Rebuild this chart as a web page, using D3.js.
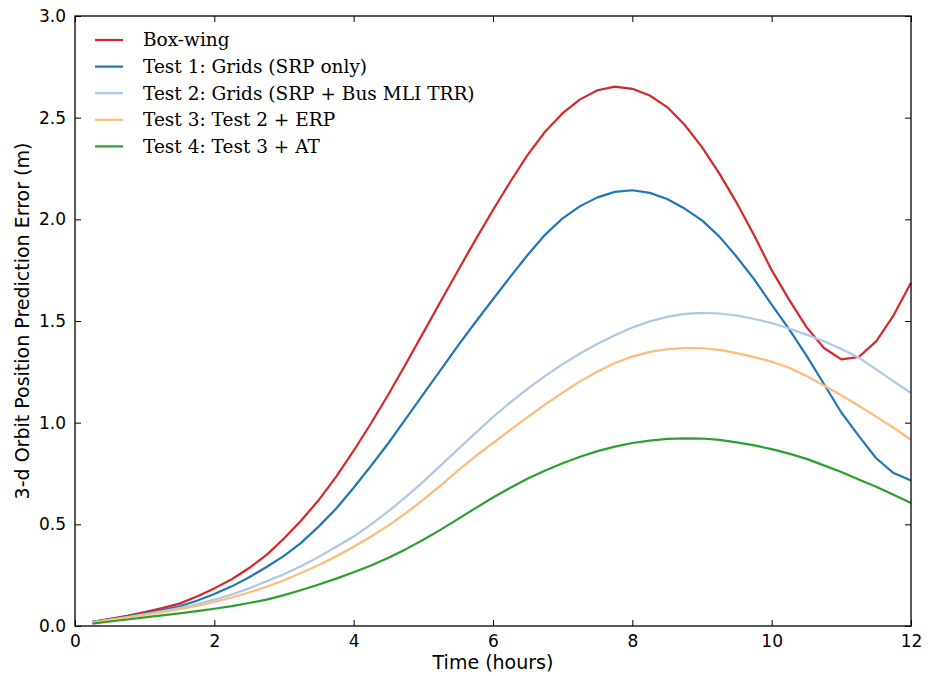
<!DOCTYPE html>
<html>
<head>
<meta charset="utf-8">
<script src="https://cdn.jsdelivr.net/npm/d3@7"></script>
<style>
body { margin: 0; background: #fff; }
text { fill: #000; }
</style>
</head>
<body>
<div id="chart"></div>
<script>
var W = 934, H = 676;
var margin = {left: 75, right: 23, top: 16, bottom: 50};

// time in hours, one sample every 15 minutes
var hours = d3.range(1, 49).map(function(i) { return i * 0.25; });

var boxWing = [0.02,0.035,0.05,0.068,0.088,0.11,0.145,0.185,0.23,0.285,0.35,0.43,
  0.52,0.62,0.735,0.862,0.997,1.14,1.29,1.443,1.597,1.75,1.90,2.046,
  2.186,2.318,2.432,2.522,2.59,2.635,2.653,2.642,2.609,2.552,2.465,2.355,
  2.225,2.08,1.92,1.75,1.605,1.47,1.367,1.311,1.323,1.40,1.528,1.688];

var test1 = [0.02,0.033,0.047,0.062,0.078,0.097,0.124,0.157,0.195,0.24,0.29,0.345,
  0.41,0.49,0.578,0.68,0.788,0.90,1.02,1.14,1.26,1.38,1.495,1.607,
  1.718,1.826,1.925,2.005,2.065,2.108,2.135,2.143,2.13,2.10,2.053,1.995,
  1.915,1.815,1.705,1.58,1.46,1.33,1.19,1.05,0.935,0.825,0.752,0.716];

var test2 = [0.018,0.03,0.043,0.057,0.072,0.088,0.107,0.13,0.155,0.185,0.22,0.255,
  0.295,0.34,0.39,0.44,0.50,0.565,0.635,0.71,0.79,0.87,0.95,1.028,
  1.10,1.167,1.23,1.288,1.34,1.388,1.43,1.468,1.498,1.52,1.535,1.54,
  1.537,1.527,1.51,1.49,1.463,1.433,1.40,1.362,1.32,1.262,1.203,1.146];

var test3 = [0.018,0.03,0.042,0.055,0.068,0.083,0.099,0.118,0.14,0.165,0.193,0.225,
  0.262,0.30,0.343,0.39,0.44,0.495,0.555,0.622,0.692,0.765,0.835,0.90,
  0.965,1.028,1.09,1.148,1.203,1.252,1.293,1.325,1.348,1.361,1.367,1.366,
  1.358,1.342,1.322,1.30,1.27,1.23,1.183,1.135,1.083,1.03,0.975,0.916];

var test4 = [0.012,0.022,0.032,0.042,0.052,0.062,0.073,0.085,0.098,0.113,0.13,0.152,
  0.177,0.204,0.233,0.264,0.298,0.336,0.378,0.424,0.474,0.527,0.58,0.632,
  0.68,0.725,0.765,0.80,0.832,0.86,0.882,0.90,0.912,0.92,0.923,0.922,
  0.915,0.903,0.888,0.87,0.848,0.822,0.79,0.757,0.72,0.685,0.645,0.605];

var seriesNames = ["Box-wing", "Test 1: Grids (SRP only)", "Test 2: Grids (SRP + Bus MLI TRR)",
  "Test 3: Test 2 + ERP", "Test 4: Test 3 + AT"];
var seriesValues = [boxWing, test1, test2, test3, test4];
var seriesColors = ["#d62728", "#1f77b4", "#aec7e8", "#ffbb78", "#2ca02c"];

var xTicks = [0, 2, 4, 6, 8, 10, 12];
var yTicks = [0, 0.5, 1.0, 1.5, 2.0, 2.5, 3.0];

var svg = d3.select("#chart")
  .append("svg")
  .attr("width", W)
  .attr("height", H);

var x = d3.scaleLinear().domain([0, 12]).range([margin.left, W - margin.right]);
var y = d3.scaleLinear().domain([0, 3]).range([H - margin.bottom, margin.top]);

// lines
var line = d3.line()
  .x(function(d) { return x(d[0]); })
  .y(function(d) { return y(d[1]); });

seriesValues.forEach(function(vals, i) {
  svg.append("path")
    .datum(hours.map(function(t, j) { return [t, vals[j]]; }))
    .attr("fill", "none")
    .attr("stroke", seriesColors[i])
    .attr("stroke-width", 2.2)
    .attr("stroke-linejoin", "round")
    .attr("d", line);
});

// axes, ticks pointing in (classic matplotlib)
var tickFont = "DejaVu Sans, sans-serif";

var xAxis = svg.append("g")
  .attr("transform", "translate(0," + y(0) + ")")
  .call(d3.axisBottom(x).tickValues(xTicks).tickSizeInner(-6).tickSizeOuter(0).tickPadding(9)
    .tickFormat(d3.format("d")));

var yAxis = svg.append("g")
  .attr("transform", "translate(" + x(0) + ",0)")
  .call(d3.axisLeft(y).tickValues(yTicks).tickSizeInner(-6).tickSizeOuter(0).tickPadding(9)
    .tickFormat(d3.format(".1f")));

var xTop = svg.append("g")
  .attr("transform", "translate(0," + y(3) + ")")
  .call(d3.axisTop(x).tickValues(xTicks).tickSizeInner(-6).tickSizeOuter(0).tickFormat(""));

var yRight = svg.append("g")
  .attr("transform", "translate(" + x(12) + ",0)")
  .call(d3.axisRight(y).tickValues(yTicks).tickSizeInner(-6).tickSizeOuter(0).tickFormat(""));

[xAxis, yAxis, xTop, yRight].forEach(function(g) {
  g.select(".domain").remove();
  g.selectAll("line").attr("stroke", "#000").attr("stroke-width", 1);
  g.selectAll("text").attr("font-family", tickFont).attr("font-size", 17).attr("fill", "#000");
});

// frame
svg.append("rect")
  .attr("x", x(0))
  .attr("y", y(3))
  .attr("width", x(12) - x(0))
  .attr("height", y(0) - y(3))
  .attr("fill", "none")
  .attr("stroke", "#000")
  .attr("stroke-width", 1.3);

// axis labels
svg.append("text")
  .attr("x", (x(0) + x(12)) / 2)
  .attr("y", 669)
  .attr("text-anchor", "middle")
  .attr("font-family", tickFont)
  .attr("font-size", 19)
  .text("Time (hours)");

svg.append("text")
  .attr("transform", "translate(29," + ((y(0) + y(3)) / 2) + ") rotate(-90)")
  .attr("text-anchor", "middle")
  .attr("font-family", tickFont)
  .attr("font-size", 19)
  .text("3-d Orbit Position Prediction Error (m)");

// legend
var legend = svg.append("g").attr("transform", "translate(95,40)");
seriesNames.forEach(function(name, i) {
  var row = legend.append("g").attr("transform", "translate(0," + (i * 26.6) + ")");
  row.append("line")
    .attr("x1", 0).attr("x2", 28)
    .attr("stroke", seriesColors[i])
    .attr("stroke-width", 2.2);
  row.append("text")
    .attr("x", 48)
    .attr("dy", "0.35em")
    .attr("font-family", "DejaVu Serif, serif")
    .attr("font-size", 18.5)
    .text(name);
});
</script>
</body>
</html>
